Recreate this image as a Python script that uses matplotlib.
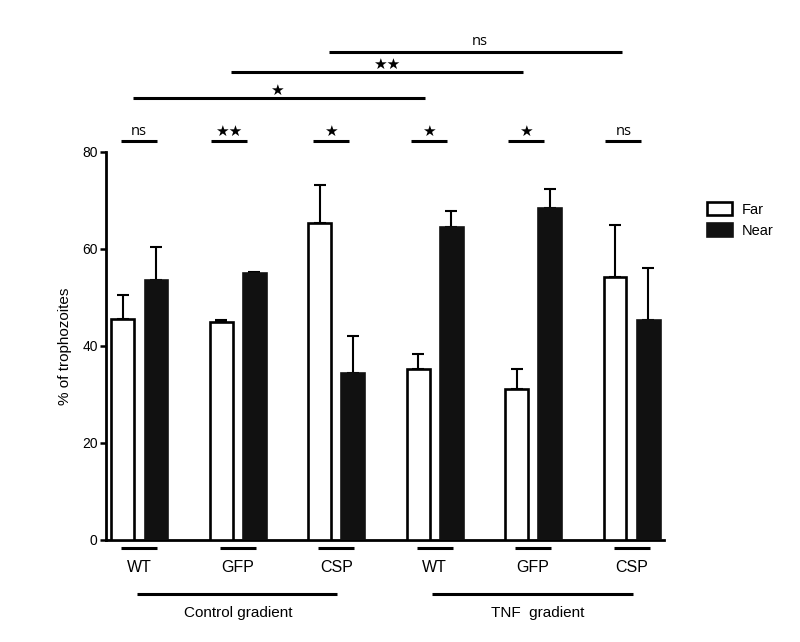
import numpy as np
import matplotlib
matplotlib.use('Agg')
import matplotlib.pyplot as plt

plt.rcParams['font.family'] = ['Liberation Sans', 'DejaVu Sans']

# data
groups = ['WT', 'GFP', 'CSP', 'WT', 'GFP', 'CSP']
far = [45.6, 45.0, 65.3, 35.2, 31.2, 54.3]
far_err = [5.0, 0.4, 7.8, 3.2, 4.0, 10.6]
near = [53.6, 55.0, 34.4, 64.5, 68.5, 45.4]
near_err = [6.9, 0.3, 7.7, 3.3, 3.8, 10.6]

pair_sig = ['ns', '★★', '★', '★', '★', 'ns']
cross_sig = [(0, 3, '★'), (1, 4, '★★'), (2, 5, 'ns')]
gradients = [('Control gradient', 0, 2), ('TNF  gradient', 3, 5)]

# layout
w = 0.233
off = 0.168
lw = 1.9
pair_x = [-0.008, 0.911, 1.944, 2.942, 3.927, 4.916]
pair_half = 0.183
cross_y = [91.1, 96.4, 100.7]
cross_tx = [1.40, 2.51, 3.46]

fig = plt.figure(figsize=(8, 6.42), dpi=100)
ax = fig.add_axes([0.1325, 0.1589, 0.6975, 0.6044])

x = np.arange(len(groups))
ax.bar(x - off, far, w, color='white', edgecolor='black', linewidth=lw,
       label='Far', zorder=3)
ax.bar(x + off, near, w, color='#111111', edgecolor='#111111', linewidth=lw,
       label='Near', zorder=3)
ax.errorbar(x - off, far, yerr=[np.zeros(len(far)), far_err], fmt='none',
            ecolor='black', elinewidth=1.5, capsize=4.2, capthick=1.5, zorder=2)
ax.errorbar(x + off, near, yerr=[np.zeros(len(near)), near_err], fmt='none',
            ecolor='black', elinewidth=1.5, capsize=4.2, capthick=1.5, zorder=2)

ax.set_xlim(-0.34, 5.33)
ax.set_ylim(0, 80)
ax.set_yticks([0, 20, 40, 60, 80])
ax.set_xticks([])
ax.tick_params(axis='y', length=4, width=1.8, labelsize=10, pad=2)
for s in ['top', 'right']:
    ax.spines[s].set_visible(False)
for s in ['left', 'bottom']:
    ax.spines[s].set_linewidth(2.0)
ax.set_ylabel('% of trophozoites', fontsize=11, labelpad=7)

# significance between far/near in each group
for xc, lab in zip(pair_x, pair_sig):
    ax.plot([xc - pair_half, xc + pair_half], [82.3, 82.3], color='black',
            lw=2.2, clip_on=False, solid_capstyle='butt')
    if lab == 'ns':
        ax.text(xc, 84.3, lab, ha='center', va='center', fontsize=10.5,
                family=['Open Sans', 'DejaVu Sans'])
    else:
        ax.text(xc, 84.3, lab, ha='center', va='center', fontsize=11,
                family='DejaVu Sans')

# significance between gradients
for (i, j, lab), yy, tx in zip(cross_sig, cross_y, cross_tx):
    ax.plot([i - 0.07, j - 0.1], [yy, yy], color='black', lw=2.2,
            clip_on=False, solid_capstyle='butt')
    if lab == 'ns':
        ax.text(tx, yy + 2.1, lab, ha='center', va='center', fontsize=10.5,
                family=['Open Sans', 'DejaVu Sans'])
    else:
        ax.text(tx, yy + 1.6, lab, ha='center', va='center', fontsize=11,
                family='DejaVu Sans')

# category labels under the axis
for xc, lab in zip(x, groups):
    ax.plot([xc - pair_half, xc + pair_half], [-1.65, -1.65], color='black',
            lw=2.2, clip_on=False, solid_capstyle='butt')
    ax.text(xc, -5.6, lab, ha='center', va='center', fontsize=11.5)

for lab, i, j in gradients:
    ax.plot([i - 0.03, j + 0.01], [-11.1, -11.1], color='black', lw=2.2,
            clip_on=False, solid_capstyle='butt')
    ax.text((i + j) / 2 + (0.05 if i else 0.0), -15.0, lab, ha='center',
            va='center', fontsize=11)

leg = ax.legend(loc='upper left', bbox_to_anchor=(707 / 800, 1 - 202 / 642),
                bbox_transform=fig.transFigure, frameon=False, fontsize=10.5,
                handlelength=1.7, handleheight=1.0, handletextpad=0.7,
                labelspacing=0.45, borderpad=0, borderaxespad=0)

fig.savefig('out.png', dpi=100)
